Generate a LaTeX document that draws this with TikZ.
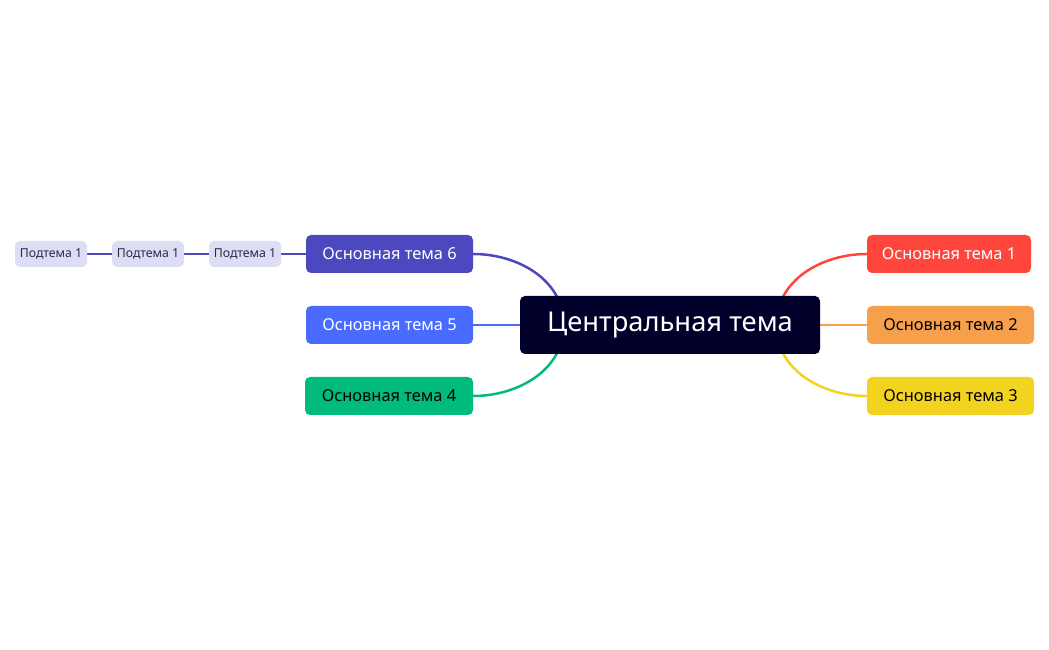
\documentclass[tikz,border=0pt]{standalone}
\usepackage{fontspec}
\setmainfont{Noto Sans}
\usetikzlibrary{backgrounds,calc}
\definecolor{cnavy}{HTML}{00002A}
\definecolor{cpurple}{HTML}{4E48C0}
\definecolor{cblue}{HTML}{4A6BFF}
\definecolor{cgreen}{HTML}{00BB7A}
\definecolor{cred}{HTML}{FF463C}
\definecolor{corange}{HTML}{F6A04B}
\definecolor{cyellow}{HTML}{F2D31F}
\definecolor{csub}{HTML}{DDDDF3}
\definecolor{csubtext}{HTML}{2A2A4A}
\begin{document}
\begin{tikzpicture}[x=1pt,y=1pt,
  central/.style={fill=cnavy,text=white,rounded corners=5pt,minimum width=300pt,minimum height=58pt,inner sep=0pt,font=\fontsize{27.3}{31}\selectfont},
  topic/.style={rounded corners=5pt,minimum width=167pt,minimum height=38pt,inner sep=0pt,font=\fontsize{16.4}{19}\selectfont},
  subtopic/.style={fill=csub,text=csubtext,rounded corners=5pt,minimum width=72pt,minimum height=26pt,inner sep=0pt,font=\fontsize{12.3}{14}\selectfont},
  link/.style={line width=2.5pt}]
\useasboundingbox (0,0) rectangle (1049,650);
\node[central] (c) at (670,325) {Центральная тема};
\node[topic,fill=cpurple,text=white] (t6) at (389.5,396) {Основная тема 6};
\node[topic,fill=cblue,text=white] (t5) at (389.5,325) {Основная тема 5};
\node[topic,fill=cgreen,text=black,minimum width=168pt] (t4) at (389,254) {Основная тема 4};
\node[topic,fill=cred,text=white,minimum width=164pt] (t1) at (949,396) {Основная тема 1};
\node[topic,fill=corange,text=black] (t2) at (950.5,325) {Основная тема 2};
\node[topic,fill=cyellow,text=black] (t3) at (950.5,254) {Основная тема 3};
\node[subtopic] (s3) at (245,396) {Подтема 1};
\node[subtopic] (s2) at (148,396) {Подтема 1};
\node[subtopic] (s1) at (51,396) {Подтема 1};
\coordinate (cl) at ([xshift=44pt]c.west);
\coordinate (cr) at ([xshift=-44pt]c.east);
\begin{scope}[on background layer]
\draw[link,cpurple] (t6.east) to[out=0,in=90] (cl);
\draw[link,cblue] (t5.east) -- (c.west);
\draw[link,cgreen] (t4.east) to[out=0,in=-90] (cl);
\draw[link,cred] (t1.west) to[out=180,in=90] (cr);
\draw[link,corange] (t2.west) -- (c.east);
\draw[link,cyellow] (t3.west) to[out=180,in=-90] (cr);
\draw[line width=2pt,cpurple] (t6.west) -- (s3.east);
\draw[line width=2pt,cpurple] (s3.west) -- (s2.east);
\draw[line width=2pt,cpurple] (s2.west) -- (s1.east);
\end{scope}
\end{tikzpicture}
\end{document}
